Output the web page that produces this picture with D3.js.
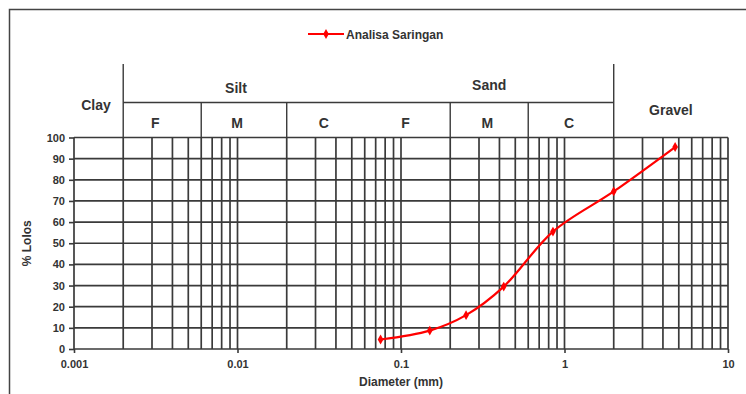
<!DOCTYPE html>
<html>
<head>
<meta charset="utf-8">
<script src="https://cdn.jsdelivr.net/npm/d3@7"></script>
<style>
  body { margin: 0; background: #fff; }
  text { font-family: "Liberation Sans Narrow", "Liberation Sans", Arial, sans-serif; font-weight: bold; fill: #333; }
</style>
</head>
<body>
<div id="chart"></div>
<script>
// sieve data
var diameter = [0.075, 0.15, 0.25, 0.425, 0.85, 2, 4.75];
var lolos = [4.5, 8.7, 16, 29.5, 55.5, 74.5, 95.5];
var seriesName = 'Analisa Saringan';

var xTicks = [0.001, 0.01, 0.1, 1, 10];
var yTicks = [0, 10, 20, 30, 40, 50, 60, 70, 80, 90, 100];

// soil classes
var mainBounds = [0.002, 2];
var mainLabels = [
  {name: 'Clay', from: 0.001, to: 0.002},
  {name: 'Silt', from: 0.002, to: 0.06},
  {name: 'Sand', from: 0.06, to: 2},
  {name: 'Gravel', from: 2, to: 10}
];
var subBounds = [0.006, 0.02, 0.2, 0.6];
var subLabels = [
  {name: 'F', from: 0.002, to: 0.006},
  {name: 'M', from: 0.006, to: 0.02},
  {name: 'C', from: 0.02, to: 0.06},
  {name: 'F', from: 0.06, to: 0.2},
  {name: 'M', from: 0.2, to: 0.6},
  {name: 'C', from: 0.6, to: 2}
];

var width = 746, height = 394;
var pLeft = 74, pRight = 728, pTop = 137.5, pBottom = 349;
var gridColor = '#3a3a3a';

var svg = d3.select('#chart').append('svg')
  .attr('width', width)
  .attr('height', height);

// frame
svg.append('path')
  .attr('d', 'M9.5,' + height + 'V9.5H' + width)
  .attr('fill', 'none')
  .attr('stroke', '#444')
  .attr('stroke-width', 1.5);

var x = d3.scaleLog().domain([0.001, 10]).range([pLeft, pRight]);
var y = d3.scaleLinear().domain([0, 100]).range([pBottom, pTop]);

function mid(a, b) { return x(Math.sqrt(a * b)); }

// vertical grid: every 1..9 of each decade
var vLines = [];
for (var e = -3; e < 1; e++) {
  for (var k = 1; k <= 9; k++) vLines.push(k * Math.pow(10, e));
}
vLines.push(10);

svg.append('g').selectAll('line').data(vLines).join('line')
  .attr('x1', function(d) { return x(d); })
  .attr('x2', function(d) { return x(d); })
  .attr('y1', pTop)
  .attr('y2', pBottom)
  .attr('stroke', gridColor)
  .attr('stroke-width', 1.7);

svg.append('g').selectAll('line').data(yTicks).join('line')
  .attr('x1', pLeft)
  .attr('x2', pRight)
  .attr('y1', function(d) { return y(d); })
  .attr('y2', function(d) { return y(d); })
  .attr('stroke', gridColor)
  .attr('stroke-width', 1.7);

// axes
var yAxis = svg.append('g')
  .attr('transform', 'translate(' + pLeft + ',0)')
  .call(d3.axisLeft(y).tickValues(yTicks).tickSize(5).tickPadding(4));
yAxis.select('.domain').remove();
yAxis.selectAll('line').attr('stroke', gridColor).attr('stroke-width', 1.6);
yAxis.selectAll('text').style('font-size', '11px').style('fill', '#333');

var xAxis = svg.append('g')
  .attr('transform', 'translate(0,' + pBottom + ')')
  .call(d3.axisBottom(x).tickValues(xTicks).tickFormat(d3.format('~g')).tickSize(4).tickPadding(7));
xAxis.select('.domain').remove();
xAxis.selectAll('line').attr('stroke', gridColor).attr('stroke-width', 1.6);
xAxis.selectAll('text').style('font-size', '11px').style('fill', '#333');

// axis titles
svg.append('text')
  .attr('x', x(0.1))
  .attr('y', 386)
  .attr('text-anchor', 'middle')
  .style('font-size', '12px')
  .text('Diameter (mm)');

svg.append('text')
  .attr('transform', 'translate(31,' + ((pTop + pBottom) / 2) + ') rotate(-90)')
  .attr('text-anchor', 'middle')
  .style('font-size', '12px')
  .text('% Lolos');

// classification header
var hdr = svg.append('g');
mainBounds.forEach(function(d) {
  hdr.append('line')
    .attr('x1', x(d)).attr('x2', x(d))
    .attr('y1', 64).attr('y2', pTop)
    .attr('stroke', gridColor).attr('stroke-width', 1.4);
});
hdr.append('line')
  .attr('x1', x(mainBounds[0])).attr('x2', x(mainBounds[1]))
  .attr('y1', 102.5).attr('y2', 102.5)
  .attr('stroke', gridColor).attr('stroke-width', 1.4);
subBounds.forEach(function(d) {
  hdr.append('line')
    .attr('x1', x(d)).attr('x2', x(d))
    .attr('y1', 102.5).attr('y2', pTop)
    .attr('stroke', gridColor).attr('stroke-width', 1.4);
});

var mainY = {Clay: 110, Silt: 93, Sand: 90, Gravel: 115};
hdr.selectAll('text.main').data(mainLabels).join('text')
  .attr('class', 'main')
  .attr('x', function(d) { return d.name === 'Clay' ? 96 : mid(d.from, d.to) - (d.name === 'Silt' ? 8 : 0); })
  .attr('y', function(d) { return mainY[d.name]; })
  .attr('text-anchor', 'middle')
  .style('font-size', '14px')
  .text(function(d) { return d.name; });

hdr.selectAll('text.sub').data(subLabels).join('text')
  .attr('class', 'sub')
  .attr('x', function(d, i) { return mid(d.from, d.to) - (i < 2 ? 7 : 2); })
  .attr('y', 128)
  .attr('text-anchor', 'middle')
  .style('font-size', '14px')
  .text(function(d) { return d.name; });

// series
var pts = diameter.map(function(d, i) { return [x(d), y(lolos[i])]; });
var line = d3.line().curve(d3.curveCatmullRom.alpha(0.5));
svg.append('path')
  .attr('d', line(pts))
  .attr('fill', 'none')
  .attr('stroke', '#ff0000')
  .attr('stroke-width', 2.2);

var diamond = d3.symbol().type(d3.symbolDiamond).size(28);
svg.append('g').selectAll('path').data(pts).join('path')
  .attr('transform', function(d) { return 'translate(' + d[0] + ',' + d[1] + ')'; })
  .attr('d', diamond)
  .attr('fill', '#ff0000');

// legend
var lg = svg.append('g').attr('transform', 'translate(308,34)');
lg.append('line')
  .attr('x1', 0).attr('x2', 36)
  .attr('y1', 0).attr('y2', 0)
  .attr('stroke', '#ff0000').attr('stroke-width', 2.2);
lg.append('path').attr('transform', 'translate(18,0)').attr('d', diamond).attr('fill', '#ff0000');
lg.append('text')
  .attr('x', 38).attr('y', 4.5)
  .style('font-size', '12px')
  .text(seriesName);
</script>
</body>
</html>
